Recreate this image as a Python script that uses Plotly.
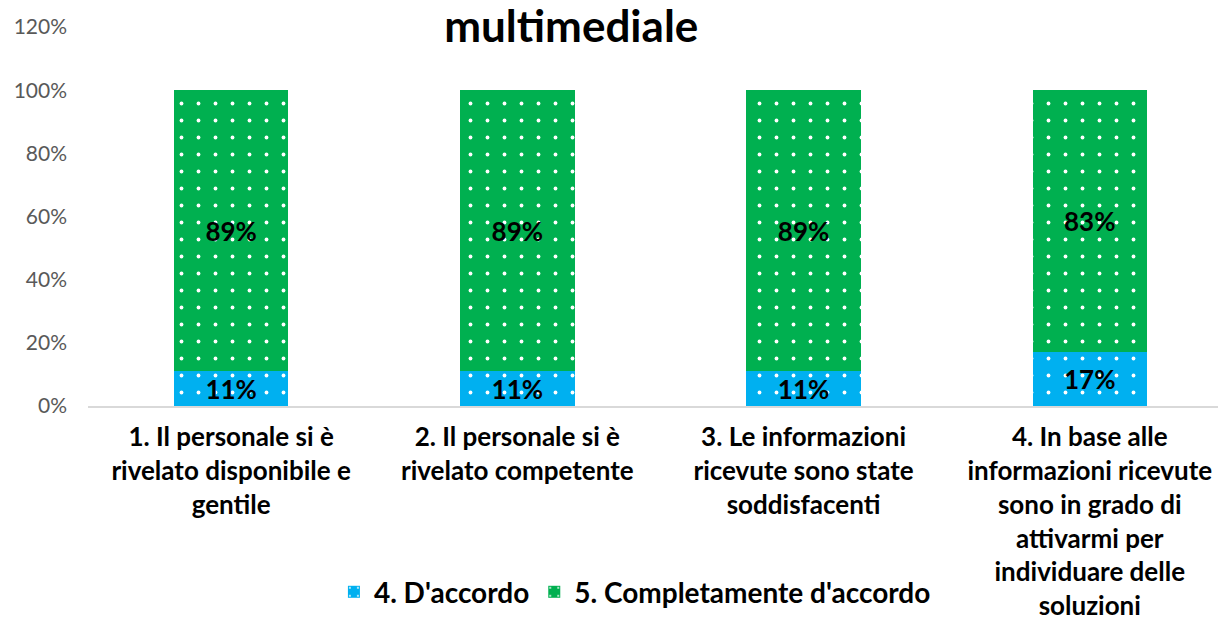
import plotly.graph_objects as go

# data
categories = [
    "1. Il personale si è<br>rivelato disponibile e<br>gentile",
    "2. Il personale si è<br>rivelato competente",
    "3. Le informazioni<br>ricevute sono state<br>soddisfacenti",
    "4. In base alle<br>informazioni ricevute<br>sono in grado di<br>attivarmi per<br>individuare delle<br>soluzioni",
]
d_accordo = [0.11, 0.11, 0.11, 0.17]
completamente = [0.89, 0.89, 0.89, 0.83]
series_names = ["4. D'accordo", "5. Completamente d'accordo"]
colors = ["#00B0F0", "#00B050"]

font_family = "Lato, 'Open Sans', sans-serif"

fig = go.Figure()
for name, vals, col in zip(series_names, [d_accordo, completamente], colors):
    fig.add_trace(go.Bar(
        x=categories,
        y=vals,
        name=name,
        width=0.4,
        text=["{:.0%}".format(v) for v in vals],
        textposition="inside",
        insidetextanchor="middle",
        constraintext="none",
        textfont=dict(family=font_family, size=26, color="black", weight="bold"),
        marker=dict(
            color=col,
            line=dict(width=0),
            pattern=dict(shape=".", fillmode="replace", bgcolor=col,
                         fgcolor="white", size=17, solidity=0.04),
        ),
    ))

fig.update_layout(
    barmode="stack",
    width=1218,
    height=623,
    paper_bgcolor="white",
    plot_bgcolor="white",
    margin=dict(l=88, r=0, t=27, b=217),
    title=dict(text="<b>multimediale</b>", x=0.469, xanchor="center",
               y=0.958, yanchor="middle",
               font=dict(family=font_family, size=44, color="black")),
    font=dict(family=font_family),
    legend=dict(orientation="h", x=0.484, xanchor="center", y=-0.491,
                yanchor="middle", traceorder="normal",
                font=dict(family=font_family, size=28, color="black", weight="bold"),
                itemwidth=30),
    showlegend=True,
    # the original chart is cropped on the right, so the last band is cut short
    xaxis=dict(range=[-0.5, 3.448], showgrid=False, showline=True,
               linecolor="#D9D9D9", linewidth=2, ticks="", automargin=False,
               ticklabelstandoff=7,
               tickfont=dict(family=font_family, size=26, color="black",
                             weight="bold")),
    yaxis=dict(range=[0, 1.2], dtick=0.2, tickformat=".0%", showgrid=False,
               zeroline=False, showline=False, ticks="", automargin=False,
               ticklabelstandoff=20,
               tickfont=dict(family=font_family, size=21, color="#595959")),
)

# drop the default page margin so the chart sits at the window's corner
fig.write_html("out.html", config={"displayModeBar": False},
               post_script="document.body.style.margin='0';")
